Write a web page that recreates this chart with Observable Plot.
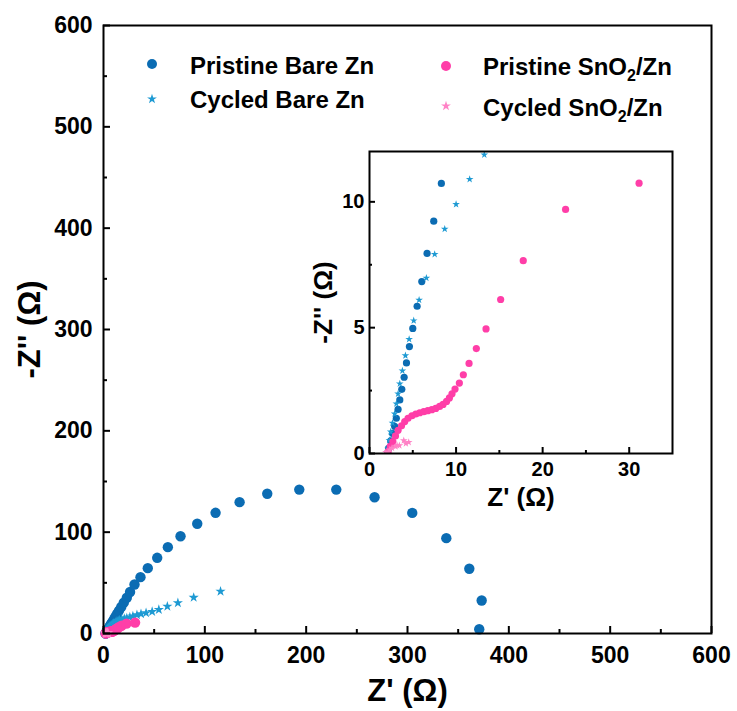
<!DOCTYPE html>
<html><head><meta charset="utf-8">
<script src="https://cdn.jsdelivr.net/npm/d3@7"></script>
<script src="https://cdn.jsdelivr.net/npm/@observablehq/plot@0.6"></script>
<style>
html,body{margin:0;padding:0;background:#fff;}
#wrap{position:relative;width:737px;height:711px;}
#wrap svg{position:absolute;}
</style></head><body><div id="wrap"></div>
<script>
// ---------- data ----------
const seriesNames = ["Pristine Bare Zn", "Cycled Bare Zn", "Pristine SnO2/Zn", "Cycled SnO2/Zn"];
const seriesColors = ["#0b6cb3", "#1e9ad3", "#ff3ea8", "#ff82c6"];

const pristineBareX = [2.1,2.2,2.45,2.65,2.9,3.1,3.3,3.5,3.73,4.0,4.27,4.61,5.0,5.5,6.04,6.65,7.42,8.3,9.4,10.6,11.9,13.5,15.3,17.5,20,23,26.2,30.6,36.5,43.7,53,63.5,76,92.5,110.6,134.3,161.6,193.2,229.7,267.5,304.7,338.3,361,373.2,370.8];
const pristineBareY = [0.03,0.2,0.5,0.8,1.08,1.4,1.75,2.13,2.55,3.03,3.6,4.25,4.97,5.85,6.83,7.95,9.23,10.73,12.5,14.5,16.8,19.5,22.6,26.2,30.4,35.3,41,48.4,55.6,64.5,74.7,85.2,96,108.3,119.1,129.6,137.9,142,142,134.5,119,94.1,63.9,32.6,4.2];

const cycledBareX = [2.15,2.3,2.45,2.65,2.9,3.1,3.3,3.5,3.8,4.15,4.58,5.11,5.73,6.57,7.53,8.69,10.0,11.57,13.26,14.5,16,18,20.5,23,26,29,33,37,42,48,54.6,63,73.4,89,115.5];
const cycledBareY = [0.2,0.53,0.86,1.21,1.58,1.98,2.37,2.77,3.29,3.89,4.54,5.28,6.1,6.97,7.92,8.92,9.9,10.9,11.87,12.6,13.2,13.9,14.6,15.3,16.2,17.1,18.3,19.3,20.3,21.5,23.6,26.8,30.2,35.5,41.5];

const pristineSnX = [2.15,2.4,2.7,3.0,3.3,3.7,4.07,4.45,4.9,5.35,5.8,6.27,6.73,7.2,7.65,8.1,8.5,8.9,9.23,9.53,9.88,10.38,10.84,11.5,12.34,13.46,15.15,17.76,22.65,31.14];
const pristineSnY = [0.08,0.28,0.47,0.7,0.92,1.1,1.27,1.4,1.5,1.57,1.62,1.66,1.70,1.74,1.79,1.87,1.95,2.07,2.21,2.37,2.56,2.8,3.13,3.58,4.17,4.95,6.12,7.66,9.7,10.74];

const cycledSnX = [1.9,2.15,2.35,2.6,3.0,3.19,3.45,3.96,4.2,4.53];
const cycledSnY = [0.05,0.06,0.15,0.22,0.28,0.32,0.32,0.52,0.4,0.45];

const mainXTicks = [0,100,200,300,400,500,600];
const mainXMinor = [50,150,250,350,450,550];
const mainYTicks = [0,100,200,300,400,500,600];
const mainYMinor = [50,150,250,350,450,550];
const insetXTicks = [0,10,20,30];
const insetXMinor = [5,15,25];
const insetYTicks = [0,5,10];
const insetYMinor = [2.5,7.5];
const xLabel = "Z' (Ω)";
const yLabel = "-Z'' (Ω)";

// ---------- build ----------
const zip = (xs, ys) => xs.map((x, i) => ({x, y: ys[i]}));
const sets = [
  zip(pristineBareX, pristineBareY),
  zip(cycledBareX, cycledBareY),
  zip(pristineSnX, pristineSnY),
  zip(cycledSnX, cycledSnY)
];
const symbols = ["circle", "star", "circle", "star"];
const FONT = "'Liberation Sans', Arial, Helvetica, sans-serif";

function seriesMarks(rCircle, rStar, clip) {
  return sets.map((d, i) => Plot.dot(d, {
    x: "x", y: "y", symbol: symbols[i], fill: seriesColors[i],
    r: symbols[i] === "circle" ? rCircle : rStar, clip
  }));
}

function panel(o) {
  const {width, height, mL, mR, mT, mB, xDomain, yDomain, xt, xm, yt, ym, tickFont, xPad, yPad, major, minor, rC, rS, clip, titleFont, titleDy, titleDx} = o;
  const fw = width - mL - mR, fh = height - mT - mB;
  return Plot.plot({
    width, height, marginLeft: mL, marginRight: mR, marginTop: mT, marginBottom: mB,
    style: {fontFamily: FONT, fontWeight: "bold", background: "transparent", color: "#000", overflow: "visible"},
    x: {domain: xDomain, label: null},
    y: {domain: yDomain, label: null},
    marks: [
      ...seriesMarks(rC, rS, clip),
      Plot.axisX({ticks: xt, tickSize: 0, tickPadding: xPad, fontSize: tickFont, label: null, tickFormat: d => String(d)}),
      Plot.axisY({ticks: yt, tickSize: 0, tickPadding: yPad, fontSize: tickFont, label: null, tickFormat: d => String(d)}),
      Plot.tickX(xt, {x: d => d, insetTop: fh - major, stroke: "#000", strokeWidth: 2}),
      Plot.tickX(xm, {x: d => d, insetTop: fh - minor, stroke: "#000", strokeWidth: 2}),
      Plot.tickY(yt, {y: d => d, insetRight: fw - major, stroke: "#000", strokeWidth: 2}),
      Plot.tickY(ym, {y: d => d, insetRight: fw - minor, stroke: "#000", strokeWidth: 2}),
      Plot.frame({stroke: "#000", strokeWidth: 2}),
      Plot.text([xLabel], {text: d => d, frameAnchor: "bottom", lineAnchor: "middle", textAnchor: "middle", dy: titleDy, fontSize: titleFont, fontWeight: "bold", fill: "#000"}),
      Plot.text([yLabel], {text: d => d, frameAnchor: "left", lineAnchor: "middle", textAnchor: "middle", dx: titleDx, rotate: -90, fontSize: titleFont, fontWeight: "bold", fill: "#000"})
    ]
  });
}

const wrap = document.getElementById("wrap");

const main = panel({
  width: 737, height: 711, mL: 103, mR: 26, mT: 25, mB: 78,
  xDomain: [0, 600], yDomain: [0, 600],
  xt: mainXTicks, xm: mainXMinor, yt: mainYTicks, ym: mainYMinor,
  tickFont: 23, xPad: 13, yPad: 11, major: 7, minor: 4,
  rC: 5.2, rS: 3.2, clip: false, titleFont: 31, titleDy: 58, titleDx: -73
});
main.style.left = "0px"; main.style.top = "0px";
wrap.appendChild(main);

// legend
const lg = d3.select(main).append("g").attr("font-family", FONT).attr("font-weight", "bold").attr("font-size", 24).attr("text-anchor", "start");
const legendItems = [
  {i: 0, sx: 152, sy: 64, tx: 190, ty: 74},
  {i: 1, sx: 152, sy: 99, tx: 190, ty: 108},
  {i: 2, sx: 446, sy: 66, tx: 483, ty: 75},
  {i: 3, sx: 446, sy: 106, tx: 483, ty: 116}
];
legendItems.forEach(({i, sx, sy, tx, ty}) => {
  const sym = symbols[i] === "circle" ? d3.symbolCircle : d3.symbolStar;
  const size = symbols[i] === "circle" ? Math.PI * 5 * 5 : 30;
  lg.append("path").attr("d", d3.symbol(sym, size)()).attr("transform", `translate(${sx},${sy})`).attr("fill", seriesColors[i]);
  const t = lg.append("text").attr("x", tx).attr("y", ty).attr("fill", "#000").attr("text-anchor", "start");
  const name = seriesNames[i];
  const k = name.indexOf("SnO2");
  if (k < 0) { t.text(name); }
  else {
    t.append("tspan").text(name.slice(0, k + 3));
    t.append("tspan").attr("font-size", 16).attr("dy", 6).text("2");
    t.append("tspan").attr("dy", -6).text(name.slice(k + 4));
  }
});

const inset = panel({
  width: 392, height: 373, mL: 79, mR: 10, mT: 11, mB: 60,
  xDomain: [0, 35], yDomain: [0, 12],
  xt: insetXTicks, xm: insetXMinor, yt: insetYTicks, ym: insetYMinor,
  tickFont: 20, xPad: 8, yPad: 5, major: 6, minor: 3,
  rC: 3.6, rS: 2.4, clip: true, titleFont: 26, titleDy: 44, titleDx: -46
});
inset.style.left = "290px"; inset.style.top = "140px";
wrap.appendChild(inset);
</script></body></html>
